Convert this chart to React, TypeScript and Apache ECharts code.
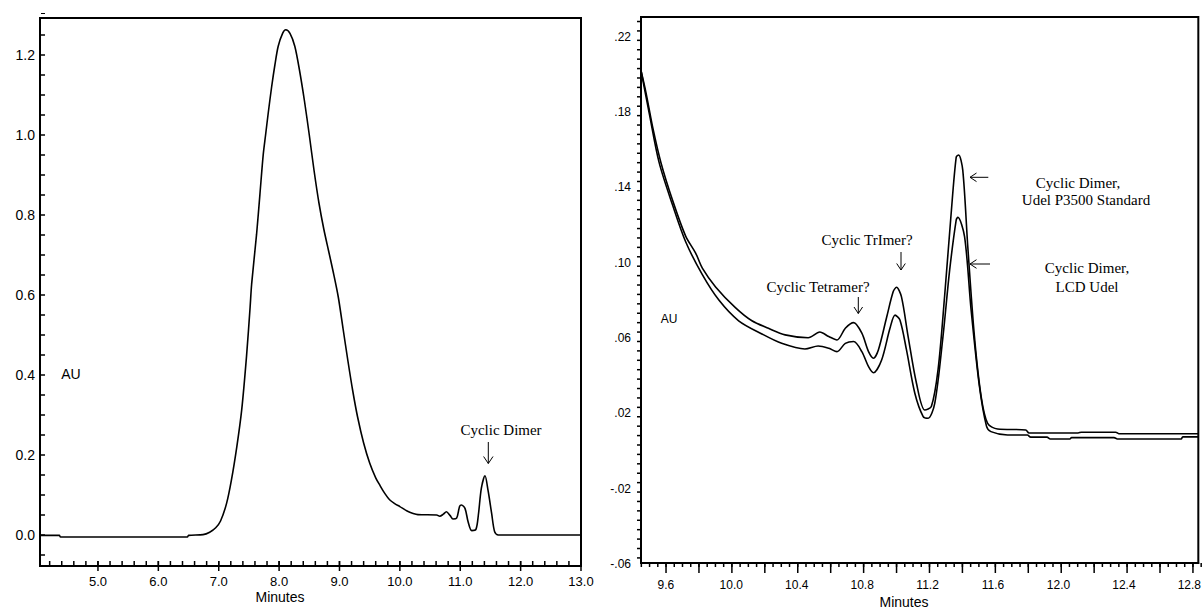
import React, { useEffect, useRef } from "react";
import * as echarts from "echarts";

// ---------- Data: left chromatogram (full run) ----------
const leftTime = [
  4.04, 4.36, 4.38, 6.48, 6.5, 6.74, 6.85, 6.95, 7.03, 7.13, 7.21, 7.3, 7.38, 7.46, 7.52, 7.545,
  7.627, 7.682, 7.737, 7.776, 7.82, 7.876, 7.93, 7.985, 8.058, 8.11, 8.18, 8.26, 8.34, 8.42, 8.5,
  8.58, 8.66, 8.74, 8.82, 8.9, 8.98, 9.06, 9.14, 9.22, 9.3, 9.4, 9.5, 9.6, 9.67, 9.75, 9.83, 9.92,
  10.0, 10.12, 10.22, 10.3, 10.61, 10.66, 10.72, 10.77, 10.83, 10.88, 10.94, 10.99, 11.02, 11.08,
  11.13, 11.19, 11.26, 11.3, 11.35, 11.41, 11.46, 11.52, 11.57, 11.63, 13.0,
];
const leftAU = [
  -0.001, -0.001, -0.005, -0.005, -0.001, 0.001, 0.007, 0.018, 0.035, 0.079, 0.137, 0.221, 0.312,
  0.446, 0.57, 0.627, 0.752, 0.851, 0.951, 1.0, 1.055, 1.12, 1.175, 1.222, 1.254, 1.263, 1.254,
  1.222, 1.16, 1.085, 1.0, 0.91, 0.83, 0.765, 0.71, 0.655, 0.595, 0.515, 0.435, 0.36, 0.295, 0.23,
  0.18, 0.143, 0.124, 0.104, 0.088, 0.078, 0.071, 0.06, 0.054, 0.051, 0.05, 0.047, 0.052, 0.058,
  0.049, 0.04, 0.042, 0.072, 0.075, 0.066, 0.033, 0.011, 0.014, 0.05, 0.117, 0.148, 0.112, 0.054,
  0.008, 0.0, 0.0,
];

// ---------- Data: right chromatogram (expanded) ----------
const stdTime = [
  9.448, 9.479, 9.519, 9.57, 9.641, 9.721, 9.782, 9.823, 9.904, 10.025, 10.126, 10.227, 10.329,
  10.47, 10.541, 10.596, 10.646, 10.697, 10.748, 10.798, 10.839, 10.869, 10.899, 10.95, 10.99,
  11.01, 11.04, 11.081, 11.132, 11.183, 11.223, 11.264, 11.304, 11.344, 11.375, 11.39, 11.415,
  11.446, 11.486, 11.527, 11.567, 11.628, 11.8, 11.82, 12.12, 12.14, 12.35, 12.37, 12.855,
];
const stdAU = [
  0.199, 0.187, 0.169, 0.15, 0.13, 0.111, 0.102, 0.094, 0.084, 0.073, 0.066, 0.062, 0.0585, 0.057,
  0.06, 0.0576, 0.0558, 0.062, 0.065, 0.0594, 0.0496, 0.0461, 0.0505, 0.068, 0.0815, 0.0838,
  0.0788, 0.0576, 0.0328, 0.0186, 0.0204, 0.04, 0.079, 0.123, 0.153, 0.1541, 0.146, 0.105, 0.058,
  0.026, 0.0115, 0.0085, 0.008, 0.0064, 0.0064, 0.0068, 0.0068, 0.006, 0.006,
];
const lcdTime = [
  9.448, 9.499, 9.559, 9.641, 9.721, 9.823, 9.924, 10.045, 10.187, 10.308, 10.45, 10.531, 10.596,
  10.646, 10.697, 10.748, 10.798, 10.839, 10.869, 10.919, 10.97, 11.001, 11.031, 11.071, 11.122,
  11.173, 11.203, 11.244, 11.294, 11.335, 11.375, 11.385, 11.426, 11.466, 11.517, 11.56, 11.587,
  11.689, 11.81, 11.83, 11.93, 11.95, 12.07, 12.08, 12.34, 12.36, 12.75, 12.76, 12.855,
];
const lcdAU = [
  0.199, 0.176, 0.15, 0.1275, 0.108, 0.0905, 0.077, 0.066, 0.059, 0.054, 0.051, 0.0526, 0.0514,
  0.0496, 0.054, 0.055, 0.0496, 0.0416, 0.0384, 0.0452, 0.062, 0.069, 0.0664, 0.0505, 0.0275,
  0.0151, 0.0142, 0.0222, 0.0576, 0.093, 0.1196, 0.121, 0.1107, 0.0718, 0.0311, 0.01, 0.0071,
  0.0053, 0.0053, 0.0042, 0.0042, 0.0032, 0.0032, 0.0039, 0.0039, 0.0032, 0.0032, 0.0043, 0.0043,
];

// ---------- Axis ranges and tick labels ----------
const LEFT_X = [4.04, 13.0];
const LEFT_Y = [-0.0775, 1.2925];
const RIGHT_X = [9.448, 12.855];
const RIGHT_Y = [-0.0627, 0.2274];
const leftXLabels = [5, 6, 7, 8, 9, 10, 11, 12, 13];
const leftYLabels = [0, 0.2, 0.4, 0.6, 0.8, 1.0, 1.2];
const rightXLabels = [9.6, 10.0, 10.4, 10.8, 11.2, 11.6, 12.0, 12.4, 12.8];
const rightYLabels = [-0.06, -0.02, 0.02, 0.06, 0.1, 0.14, 0.18, 0.22];

function steps(from: number, to: number, step: number): number[] {
  const out: number[] = [];
  const n = Math.round((to - from) / step);
  for (let i = 0; i <= n; i++) out.push(Math.round((from + i * step) * 10000) / 10000);
  return out;
}
const leftXMinorTicks = steps(4.2, 13.0, 0.2);
const leftYTicks = steps(-0.05, 1.25, 0.05);
const rightXMajorTicks = steps(9.6, 12.8, 0.2);
const rightXMinorTicks = steps(9.45, 12.85, 0.05);
const rightYTicks = steps(-0.06, 0.225, 0.005);

const pairs = (xs: number[], ys: number[]) => xs.map((x, i) => [x, ys[i]]);
const inList = (list: number[], v: number) => list.some((l) => Math.abs(l - v) < 1e-6);

const SANS = "Liberation Sans, Arial, sans-serif";
const SERIF = "Liberation Serif, Times New Roman, serif";
const BLACK = "#000";

// grid boxes (layout)
const G0 = { left: 40, top: 18, width: 541, height: 548 };
const G1 = { left: 641, top: 17, width: 561, height: 546 };

const lineSeries = (data: number[][], xi: number, yi: number) => ({
  type: "line",
  xAxisIndex: xi,
  yAxisIndex: yi,
  data,
  showSymbol: false,
  symbol: "none",
  smooth: 0.3,
  silent: true,
  lineStyle: { color: BLACK, width: 1.6 },
  emphasis: { disabled: true },
});

const txt = (text: string, x: number, y: number, size: number, family: string) => ({
  type: "text",
  x,
  y,
  silent: true,
  style: { text, fill: BLACK, fontSize: size, fontFamily: family, align: "center", verticalAlign: "middle" },
});
const seg = (x1: number, y1: number, x2: number, y2: number, w = 1) => ({
  type: "line",
  silent: true,
  shape: { x1, y1, x2, y2 },
  style: { stroke: BLACK, lineWidth: w },
});
const head = (pts: number[][]) => ({
  type: "polyline",
  silent: true,
  shape: { points: pts },
  style: { stroke: BLACK, lineWidth: 1, fill: null },
});

// linear axis mapping (same as the value axes: fixed min/max over the grid box)
const xPix = (g: any, r: number[], v: number) => g.left + ((v - r[0]) / (r[1] - r[0])) * g.width;
const yPix = (g: any, r: number[], v: number) => g.top + g.height - ((v - r[0]) / (r[1] - r[0])) * g.height;

const xTickMarks = (g: any, r: number[], values: number[], a: number, b: number) =>
  values.map((v) => {
    const px = xPix(g, r, v);
    const y0 = g.top + g.height;
    return seg(px, y0 + a, px, y0 + b, 1.5);
  });
const yTickMarks = (g: any, r: number[], values: number[], a: number, b: number) =>
  values.map((v) => {
    const py = yPix(g, r, v);
    return seg(g.left - a, py, g.left - b, py, 1.5);
  });

const tickMarks = [
  ...xTickMarks(G0, LEFT_X, leftXMinorTicks, -5, 0),
  ...xTickMarks(G0, LEFT_X, leftXLabels, -5, 5),
  ...yTickMarks(G0, LEFT_Y, leftYTicks, -5, 0),
  ...xTickMarks(G1, RIGHT_X, rightXMajorTicks, 0, 10),
  ...xTickMarks(G1, RIGHT_X, rightXMinorTicks, 0, 4),
  ...yTickMarks(G1, RIGHT_Y, rightYTicks, 0, 4),
];

const annotations = [
  seg(41, 13.5, 45, 13.5),
  txt("AU", 71, 374, 14, SANS),
  txt("Minutes", 280, 597, 14, SANS),
  txt("Cyclic Dimer", 501, 430, 15, SERIF),
  seg(488.3, 442, 488.3, 463.5),
  head([[483.6, 456.5], [488.3, 463.5], [493, 456.5]]),
  txt("AU", 669, 319, 12, SANS),
  txt("Minutes", 904, 602, 14, SANS),
  txt("Cyclic Tetramer?", 818, 287, 15, SERIF),
  seg(858.3, 297, 858.3, 313.5),
  head([[854, 307], [858.3, 313.5], [862.6, 307]]),
  txt("Cyclic TrImer?", 867, 240, 15, SERIF),
  seg(901, 252, 901, 270),
  head([[896.7, 263.5], [901, 270], [905.3, 263.5]]),
  seg(970, 177.3, 988.3, 177.3),
  head([[976.5, 173], [970, 177.3], [976.5, 181.6]]),
  txt("Cyclic Dimer,", 1078, 183, 15, SERIF),
  txt("Udel P3500 Standard", 1086, 200, 15, SERIF),
  seg(970, 264, 990, 264),
  head([[976.5, 259.7], [970, 264], [976.5, 268.3]]),
  txt("Cyclic Dimer,", 1087, 268, 15, SERIF),
  txt("LCD Udel", 1087, 287, 15, SERIF),
];

export default function App() {
  const ref = useRef<HTMLDivElement>(null);
  useEffect(() => {
    if (!ref.current) return;
    const chart = echarts.init(ref.current, null, { renderer: "svg" });
    const axisLine = () => ({ show: true, onZero: false, lineStyle: { color: BLACK, width: 2 } });
    const option: any = {
      animation: false,
      backgroundColor: "#fff",
      grid: [
        { ...G0, show: true, borderColor: BLACK, borderWidth: 2, backgroundColor: "transparent" },
        { ...G1, show: true, borderColor: BLACK, borderWidth: 2, backgroundColor: "transparent" },
      ],
      xAxis: [
        {
          gridIndex: 0, type: "value", position: "bottom", min: LEFT_X[0], max: LEFT_X[1], splitNumber: 9,
          axisLine: axisLine(), splitLine: { show: false }, axisTick: { show: false },
          axisLabel: {
            showMinLabel: false, showMaxLabel: true,
            formatter: (v: number) => (inList(leftXLabels, v) ? v.toFixed(1) : ""),
            color: BLACK, fontSize: 13, fontFamily: SANS, margin: 9,
          },
        },
        {
          gridIndex: 1, type: "value", position: "bottom", min: RIGHT_X[0], max: RIGHT_X[1], splitNumber: 17,
          axisLine: axisLine(), splitLine: { show: false }, axisTick: { show: false },
          axisLabel: {
            showMinLabel: false, showMaxLabel: false,
            formatter: (v: number) => (inList(rightXLabels, v) ? v.toFixed(1) : ""),
            color: BLACK, fontSize: 12, fontFamily: SANS, margin: 16,
          },
        },
      ],
      yAxis: [
        {
          gridIndex: 0, type: "value", position: "left", min: LEFT_Y[0], max: LEFT_Y[1], splitNumber: 7,
          axisLine: axisLine(), splitLine: { show: false }, axisTick: { show: false },
          axisLabel: {
            showMinLabel: false, showMaxLabel: false,
            formatter: (v: number) => (inList(leftYLabels, v) ? v.toFixed(1) : ""),
            color: BLACK, fontSize: 14, fontFamily: SANS, margin: 5,
          },
        },
        {
          gridIndex: 1, type: "value", position: "left", min: RIGHT_Y[0], max: RIGHT_Y[1], splitNumber: 15,
          axisLine: axisLine(), splitLine: { show: false }, axisTick: { show: false },
          axisLabel: {
            showMinLabel: false, showMaxLabel: false,
            formatter: (v: number) => (inList(rightYLabels, v) ? v.toFixed(2).replace("0.", ".") : ""),
            color: BLACK, fontSize: 12, fontFamily: SANS, margin: 10, verticalAlign: "top",
          },
        },
      ],
      series: [
        lineSeries(pairs(leftTime, leftAU), 0, 0),
        lineSeries(pairs(stdTime, stdAU), 1, 1),
        lineSeries(pairs(lcdTime, lcdAU), 1, 1),
      ],
      graphic: [...annotations, ...tickMarks],
    };
    chart.setOption(option);
    return () => chart.dispose();
  }, []);
  return (
    <div
      ref={ref}
      style={{ position: "absolute", left: 0, top: 0, width: 1204, height: 612, background: "#fff" }}
    />
  );
}
